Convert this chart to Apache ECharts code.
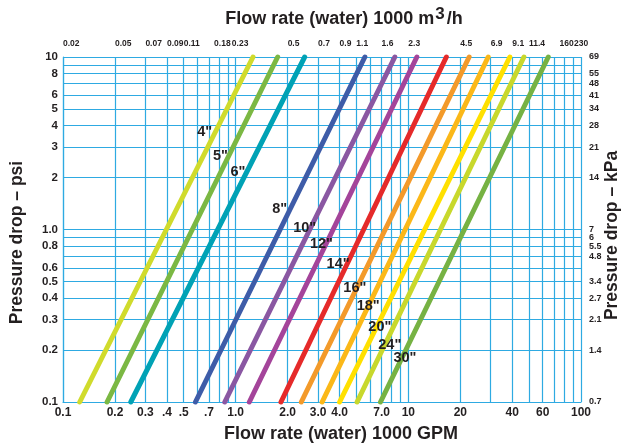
<!DOCTYPE html>
<html><head><meta charset="utf-8">
<script src="https://cdn.jsdelivr.net/npm/echarts@6/dist/echarts.min.js"></script>
<style>html,body{margin:0;padding:0;background:#fff}#c{width:627px;height:446px}</style>
</head><body><div id="c"></div>
<script>
// Pipe sizes and read flow (1000 GPM) at 0.1 psi and at 10 psi
const sizes = ['4"','5"','6"','8"','10"','12"','14"','16"','18"','20"','24"','30"'];
const flowAtLowDrop  = [0.125, 0.18, 0.247, 0.585, 0.865, 1.2, 1.83, 2.4, 3.17, 4.0, 5.05, 6.9];
const flowAtHighDrop = [1.26, 1.75, 2.51, 5.6, 8.35, 11.2, 16.6, 22.5, 29, 38.7, 46.7, 64.6];
const lowDrop = 0.1;
const highDrop = 10;
const colors = ['#d0db2c','#7bb843','#00a2b5','#3e5ca8','#8a57a2','#a4449a','#e52a2a','#f39a2a','#fbb818','#ffe000','#c8d82c','#76b243'];
// label anchors (flow, psi)
const labelFlow = [0.662, 0.817, 1.03, 1.80, 2.51, 3.14, 3.92, 4.90, 5.85, 6.84, 7.81, 9.55];
const labelDrop = [3.66, 2.67, 2.16, 1.32, 1.02, 0.823, 0.63, 0.456, 0.36, 0.271, 0.214, 0.179];

const xGridVals = [0.1,0.2,0.3,0.4,0.5,0.6,0.7,0.8,0.9,1,2,3,4,5,6,7,8,9,10,20,30,40,50,60,70,80,90,100];
const yGridVals = [0.1,0.2,0.3,0.4,0.5,0.6,0.7,0.8,0.9,1,2,3,4,5,6,7,8,9,10];

const bottomTickVals   = [0.1,0.2,0.3,0.4,0.5,0.7,1,2,3,4,7,10,20,40,60,100];
const bottomTickLabels = ['0.1','0.2','0.3','.4','.5','.7','1.0','2.0','3.0','4.0','7.0','10','20','40','60','100'];
const topTickVals   = [0.1,0.2,0.3,0.4,0.5,0.75,0.95,2,3,4,5,7,10,20,30,40,50,75,91];
const topTickLabels = ['0.02','0.05','0.07','0.09','0.11','0.18','0.23','0.5','0.7','0.9','1.1','1.6','2.3','4.5','6.9','9.1','11.4','160','230'];
const leftTickVals   = [10,8,6,5,4,3,2,1,0.8,0.6,0.5,0.4,0.3,0.2,0.1];
const leftTickLabels = ['10','8','6','5','4','3','2','1.0','0.8','0.6','0.5','0.4','0.3','0.2','0.1'];
const rightTickVals   = [10,9,8,7,6,5,4,3,2,1,0.9,0.8,0.7,0.5,0.4,0.3,0.2,0.1];
const rightTickLabels = ['69','62','55','48','41','34','28','21','14','7','6','5.5','4.8','3.4','2.7','2.1','1.4','0.7'];

const INK = '#231f20';
const GRID = '#2eaae2';
const FONT = '"Liberation Sans", Arial, Helvetica, sans-serif';

function fmt(vals, labels) {
  return function (v, idx) {
    let i = vals.indexOf(v);
    if (i < 0) i = idx;
    return labels[i] != null ? labels[i] : '';
  };
}

const series = sizes.map((s, i) => ({
  name: s,
  type: 'line',
  xAxisIndex: 0, yAxisIndex: 0,
  data: [[flowAtLowDrop[i], lowDrop], [flowAtHighDrop[i], highDrop]],
  symbol: 'none',
  clip: false,
  lineStyle: { color: colors[i], width: 5, cap: 'round' },
  z: 3
}));
series.push({
  type: 'scatter',
  xAxisIndex: 0, yAxisIndex: 0,
  symbol: 'circle',
  symbolSize: 0.5,
  clip: false,
  itemStyle: { color: '#ffffff', opacity: 1 },
  data: sizes.map((s, i) => ({ name: s, value: [labelFlow[i], labelDrop[i]] })),
  label: {
    show: true, position: 'inside', formatter: '{b}', opacity: 1,
    fontSize: 14.5, fontWeight: 'bold', color: INK, fontFamily: FONT,
    textBorderWidth: 0, textBorderColor: 'transparent'
  },
  emphasis: { disabled: true },
  z: 5
});

const chart = echarts.init(document.getElementById('c'), null, { renderer: 'canvas' });
chart.setOption({
  animation: false,
  backgroundColor: '#fff',
  textStyle: { fontFamily: FONT },
  grid: { left: 63, right: 46, top: 57, bottom: 44, containLabel: false, outerBoundsMode: 'none' },
  xAxis: [{
    type: 'log', logBase: 10, min: 0.1, max: 100, position: 'bottom',
    name: 'Flow rate (water) 1000 GPM', nameLocation: 'middle', nameGap: 23, nameMoveOverlap: false,
    nameTextStyle: { fontSize: 18, fontWeight: 'bold', color: INK, padding: [0, 0, 0, 38] },
    axisLine: { show: true, lineStyle: { color: GRID, width: 1.2 } },
    axisTick: { show: false, customValues: xGridVals },
    minorTick: { show: false }, minorSplitLine: { show: false },
    splitLine: { show: true, lineStyle: { color: GRID, width: 1.2 } },
    axisLabel: { customValues: bottomTickVals, formatter: fmt(bottomTickVals, bottomTickLabels),
      fontSize: 12, fontWeight: 'bold', color: INK, margin: 5, hideOverlap: false,
      showMinLabel: true, showMaxLabel: true }
  }, {
    type: 'log', logBase: 10, min: 0.1, max: 100, position: 'top',
    name: '{a|Flow rate (water) 1000 m}{s|3}{a|/h}', nameLocation: 'middle', nameGap: 25, nameMoveOverlap: false,
    nameTextStyle: { padding: [0, 0, 0, 44],
      rich: { a: { fontSize: 18, fontWeight: 'bold', color: INK, fontFamily: FONT },
              s: { fontSize: 17, fontWeight: 'bold', color: INK, fontFamily: FONT, padding: [0, 2, 9, 1] } } },
    axisLine: { show: false }, axisTick: { show: false }, splitLine: { show: false },
    axisLabel: { customValues: topTickVals, formatter: fmt(topTickVals, topTickLabels), align: 'left',
      fontSize: 8.5, fontWeight: 'bold', color: INK, margin: 9, hideOverlap: false,
      showMinLabel: true, showMaxLabel: true }
  }],
  yAxis: [{
    type: 'log', logBase: 10, min: 0.1, max: 10, position: 'left',
    name: 'Pressure drop – psi', nameLocation: 'middle', nameGap: 37, nameMoveOverlap: false,
    nameTextStyle: { fontSize: 17.5, fontWeight: 'bold', color: INK, padding: [0, 26, 0, 0] },
    axisLine: { show: true, lineStyle: { color: GRID, width: 1.2 } },
    axisTick: { show: false, customValues: yGridVals },
    minorTick: { show: false }, minorSplitLine: { show: false },
    splitLine: { show: true, lineStyle: { color: GRID, width: 1.2 } },
    axisLabel: { customValues: leftTickVals, formatter: fmt(leftTickVals, leftTickLabels),
      fontSize: 11.5, fontWeight: 'bold', color: INK, margin: 5, hideOverlap: false,
      showMinLabel: true, showMaxLabel: true }
  }, {
    type: 'log', logBase: 10, min: 0.1, max: 10, position: 'right',
    name: 'Pressure drop – kPa', nameLocation: 'middle', nameGap: 22, nameMoveOverlap: false,
    nameTextStyle: { fontSize: 17.5, fontWeight: 'bold', color: INK, padding: [0, 12, 0, 0] },
    axisLine: { show: false }, axisTick: { show: false }, splitLine: { show: false },
    axisLabel: { customValues: rightTickVals, formatter: fmt(rightTickVals, rightTickLabels),
      fontSize: 9, fontWeight: 'bold', color: INK, margin: 8, hideOverlap: false,
      showMinLabel: true, showMaxLabel: true }
  }],
  series: series
});
</script>
</body></html>
